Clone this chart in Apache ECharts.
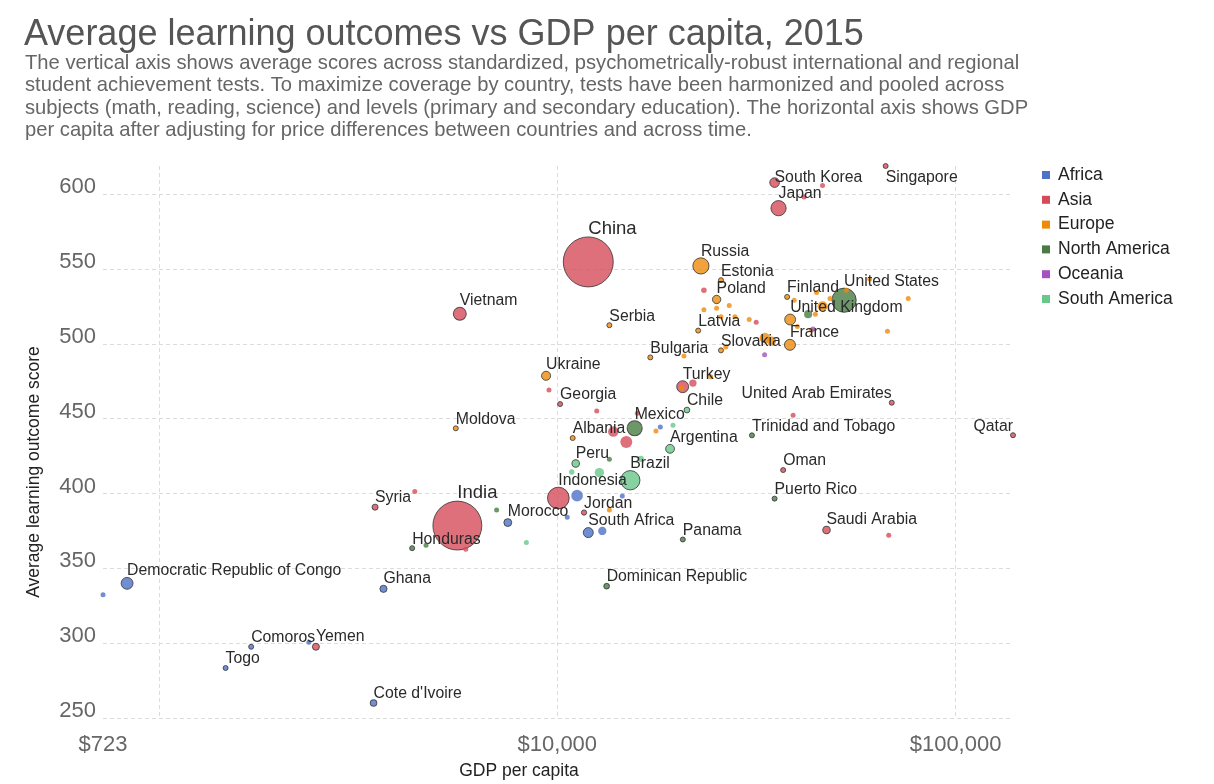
<!DOCTYPE html>
<html>
<head>
<meta charset="utf-8">
<title>Average learning outcomes vs GDP per capita, 2015</title>
<script src="https://cdn.jsdelivr.net/npm/echarts@6/dist/echarts.min.js"></script>
<style>
  html, body { margin: 0; padding: 0; background: #fff; }
  #main { width: 1214px; height: 784px; }
</style>
</head>
<body>
<div id="main"></div>
<script>
// values (gdp in $, score, population in millions)
var africaNames = ['Democratic Republic of Congo', 'Central African Republic', 'Togo', 'Comoros', 'Burkina Faso', 'Ghana',
  "Cote d'Ivoire", 'Morocco', 'Tunisia', 'Egypt', 'South Africa', 'Algeria', 'Mauritius', 'Seychelles'];
var africaGdp = [831, 723, 1469, 1703, 2378, 3660, 3456, 7510, 10590, 11210, 11960, 12970, 14560, 18140];
var africaScore = [340.0, 332.3, 283.4, 297.6, 300.7, 336.3, 260.0, 380.6, 384.2, 398.6, 373.9, 375.0, 398.4, 444.5];
var africaPop = [77, 4.5, 7.4, 0.8, 2, 28, 23, 34, 2, 75, 55, 38, 1.3, 0.1];

var asiaNames = ['China', 'India', 'Indonesia', 'Vietnam', 'Japan', 'South Korea', 'Singapore', 'Macao', 'Hong Kong',
  'Syria', 'Kyrgyzstan', 'Yemen', 'Laos', 'Armenia', 'Georgia', 'Mongolia', 'Lebanon', 'Thailand', 'Iran', 'Jordan',
  'Turkey', 'Malaysia', 'Kazakhstan', 'Israel', 'United Arab Emirates', 'Bahrain', 'Oman', 'Saudi Arabia', 'Kuwait', 'Qatar'];
var asiaGdp = [11960, 5610, 10060, 5690, 35930, 35120, 66750, 41660, 46340,
  3486, 4386, 2476, 5890, 9530, 10160, 12560, 15880, 13820, 14900, 11670,
  20640, 21900, 23340, 31580, 69150, 39090, 36900, 47420, 67960, 139400];
var asiaScore = [554.8, 378.6, 397.0, 520.1, 590.7, 607.8, 618.9, 598.2, 605.8,
  390.9, 401.3, 297.6, 362.8, 469.2, 459.8, 455.1, 453.6, 441.4, 434.5, 387.3,
  471.4, 473.8, 535.9, 514.4, 460.7, 452.3, 415.7, 375.7, 372.2, 439.0];
var asiaPop = [1371, 1311, 258, 92, 127, 51, 5.5, 0.6, 7.3,
  20, 2, 27, 2, 2.9, 3.7, 3, 6, 60, 79, 15,
  78, 30, 17, 8, 9, 1.4, 4.3, 31, 3.8, 2.5];

var europeNames = ['Russia', 'Estonia', 'Poland', 'Latvia', 'Serbia', 'Bulgaria', 'Slovakia', 'Ukraine', 'Moldova', 'Albania',
  'Finland', 'United Kingdom', 'France', 'Hungary', 'Lithuania', 'Croatia', 'Greece', 'Portugal', 'Czechia', 'Italy', 'Spain',
  'Malta', 'Romania', 'Belgium', 'Denmark', 'Iceland', 'Netherlands', 'Sweden', 'Germany', 'Austria', 'Ireland', 'Switzerland',
  'Luxembourg', 'Norway', 'Montenegro', 'North Macedonia', 'Bosnia and Herzegovina', 'Kosovo'];
var europeGdp = [22940, 25760, 25120, 22580, 13510, 17120, 25760, 9370, 5560, 10930,
  37760, 38430, 38380, 23340, 27020, 25120, 25760, 27930, 30330, 33200, 34510,
  26500, 20800, 40060, 43450, 39330, 44770, 48390, 46340, 44460, 53220, 60880,
  76060, 67450, 24270, 20510, 17690, 13510];
var europeScore = [552.1, 542.6, 529.7, 508.9, 512.5, 491.0, 495.7, 478.7, 443.6, 437.1,
  531.4, 516.3, 499.4, 522.8, 525.7, 523.9, 518.1, 518.1, 516.3, 504.0, 501.9,
  498.0, 491.9, 511.6, 509.2, 529.2, 534.4, 530.4, 525.2, 519.9, 535.9, 543.3,
  530.4, 508.5, 478.0, 470.3, 441.8, 389.0];
var europePop = [144, 1.3, 38, 2, 7, 7.2, 5.4, 45, 3.5, 2.9,
  5.5, 65, 66, 5, 2.9, 4.2, 4, 4, 6, 60, 46,
  0.4, 2, 4, 4, 0.3, 5, 9.8, 55, 4, 4.7, 4,
  0.6, 4, 0.6, 2.1, 3.5, 1.8];

var northAmericaNames = ['United States', 'Canada', 'Mexico', 'Trinidad and Tobago', 'Puerto Rico', 'Panama',
  'Dominican Republic', 'Honduras', 'Nicaragua', 'Guatemala', 'Costa Rica'];
var northAmericaGdp = [52500, 42640, 15640, 30810, 35120, 20660, 13300, 4320, 4680, 7040, 13510];
var northAmericaScore = [529.2, 519.9, 443.6, 438.9, 396.6, 369.3, 338.1, 363.5, 365.5, 389.0, 423.0];
var northAmericaPop = [321, 36, 125, 1.4, 3.5, 4, 18, 9, 1, 6, 4.8];

var oceaniaNames = ['New Zealand', 'Australia'];
var oceaniaGdp = [33150, 43850];
var oceaniaScore = [492.7, 509.9];
var oceaniaPop = [4.6, 4];

var southAmericaNames = ['Chile', 'Argentina', 'Peru', 'Brazil', 'Uruguay', 'Ecuador', 'Colombia', 'Venezuela', 'Paraguay'];
var southAmericaGdp = [21160, 19190, 11120, 15250, 19520, 10870, 12750, 16200, 8360];
var southAmericaScore = [455.8, 429.9, 420.1, 408.9, 445.6, 414.4, 414.0, 423.2, 367.3];
var southAmericaPop = [18, 43, 31, 205, 3.4, 16, 48, 22, 2];

var labelledCountries = ['Democratic Republic of Congo', 'Togo', 'Comoros', 'Ghana', "Cote d'Ivoire", 'Morocco', 'South Africa',
  'China', 'India', 'Indonesia', 'Vietnam', 'Japan', 'South Korea', 'Singapore', 'Syria', 'Yemen', 'Georgia', 'Jordan',
  'Turkey', 'United Arab Emirates', 'Oman', 'Saudi Arabia', 'Qatar', 'Russia', 'Estonia', 'Poland', 'Latvia', 'Serbia',
  'Bulgaria', 'Slovakia', 'Ukraine', 'Moldova', 'Albania', 'Finland', 'United Kingdom', 'France', 'United States', 'Mexico',
  'Trinidad and Tobago', 'Puerto Rico', 'Panama', 'Dominican Republic', 'Honduras', 'Chile', 'Argentina', 'Peru', 'Brazil'];
var labelsLeftOfPoint = ['United Arab Emirates', 'Qatar'];
var bigLabels = ['China', 'India'];

var xTickValues = [723, 10000, 100000];
var yMin = 250;
var yStep = 50;

var FONT = "'Liberation Sans', Arial, Helvetica, sans-serif";
var LABEL_SIZE = 15.8;
var BIG_LABEL_SIZE = 18.5;
var GRID = { left: 103, right: 201, top: 166, bottom: 66 };

var groups = [
  { name: 'Africa', color: '#4f72c8', names: africaNames, gdp: africaGdp, score: africaScore, pop: africaPop },
  { name: 'Asia', color: '#d44c5a', names: asiaNames, gdp: asiaGdp, score: asiaScore, pop: asiaPop },
  { name: 'Europe', color: '#ef8b0a', names: europeNames, gdp: europeGdp, score: europeScore, pop: europePop },
  { name: 'North America', color: '#497c44', names: northAmericaNames, gdp: northAmericaGdp, score: northAmericaScore, pop: northAmericaPop },
  { name: 'Oceania', color: '#a551bf', names: oceaniaNames, gdp: oceaniaGdp, score: oceaniaScore, pop: oceaniaPop },
  { name: 'South America', color: '#69c78a', names: southAmericaNames, gdp: southAmericaGdp, score: southAmericaScore, pop: southAmericaPop }
];
// drawing order (legend keeps its own order)
var drawOrder = ['Asia', 'North America', 'South America', 'Africa', 'Europe', 'Oceania'];

function bubbleSize(pop) {
  return Math.max(5, 50 * Math.sqrt(pop / 1371));
}

var allGdp = [], allScore = [];
groups.forEach(function (g) {
  allGdp = allGdp.concat(g.gdp);
  allScore = allScore.concat(g.score);
});

var series = drawOrder.map(function (gname) {
  var g = groups.filter(function (x) { return x.name === gname; })[0];
  var idx = g.names.map(function (n, i) { return i; });
  idx.sort(function (a, b) { return g.pop[b] - g.pop[a]; });
  var data = idx.map(function (i) {
    var name = g.names[i];
    var item = {
      name: name,
      value: [g.gdp[i], g.score[i], g.pop[i]],
      symbolSize: bubbleSize(g.pop[i])
    };
    if (labelledCountries.indexOf(name) >= 0) {
      item.itemStyle = { borderColor: '#333', borderWidth: 1 };
      item.label = { show: true, position: ['50%', 2] };
      if (labelsLeftOfPoint.indexOf(name) >= 0) item.label.align = 'right';
      if (bigLabels.indexOf(name) >= 0) item.label.fontSize = BIG_LABEL_SIZE;
    }
    return item;
  });
  return {
    name: g.name,
    type: 'scatter',
    color: g.color,
    data: data,
    itemStyle: { color: g.color, opacity: 0.8 },
    label: {
      show: false,
      formatter: '{b}',
      position: ['50%', 2],
      align: 'left',
      verticalAlign: 'bottom',
      fontSize: LABEL_SIZE,
      fontFamily: FONT,
      color: '#2a2a2a',
      opacity: 1
    },
    emphasis: { disabled: true }
  };
});

var option = {
  animation: false,
  title: [
    {
      text: 'Average learning outcomes vs GDP per capita, 2015',
      left: 24, top: 17, padding: 0,
      textStyle: { fontSize: 36, fontWeight: 'normal', color: '#555', fontFamily: FONT }
    },
    {
      text: 'The vertical axis shows average scores across standardized, psychometrically-robust international and regional\n' +
        'student achievement tests. To maximize coverage by country, tests have been harmonized and pooled across\n' +
        'subjects (math, reading, science) and levels (primary and secondary education). The horizontal axis shows GDP\n' +
        'per capita after adjusting for price differences between countries and across time.',
      left: 25, top: 52, padding: 0,
      textStyle: { fontSize: 20.2, lineHeight: 22.4, fontWeight: 'normal', color: '#666', fontFamily: FONT }
    }
  ],
  legend: {
    orient: 'vertical',
    left: 1042, top: 165, padding: 0,
    icon: 'rect', itemWidth: 8, itemHeight: 8, itemGap: 4.8,
    itemStyle: { opacity: 1, borderWidth: 0 },
    textStyle: { fontSize: 17.5, lineHeight: 20, color: '#222', fontFamily: FONT, padding: [0, 0, 0, 3] },
    data: groups.map(function (g) { return g.name; })
  },
  grid: { left: GRID.left, right: GRID.right, top: GRID.top, bottom: GRID.bottom, containLabel: false },
  xAxis: {
    type: 'log',
    logBase: 10,
    min: Math.min.apply(null, allGdp),
    max: Math.max.apply(null, allGdp),
    axisLine: { show: false },
    axisTick: { show: false },
    axisLabel: {
      showMinLabel: true,
      showMaxLabel: false,
      margin: 16,
      fontSize: 22,
      lineHeight: 22,
      color: '#666',
      fontFamily: FONT,
      formatter: function (v) {
        for (var i = 0; i < xTickValues.length; i++) {
          if (Math.abs(v - xTickValues[i]) / xTickValues[i] < 0.01) {
            return '$' + xTickValues[i].toLocaleString('en-US');
          }
        }
        return '';
      }
    },
    splitLine: {
      show: true, showMinLine: false, showMaxLine: false,
      lineStyle: { color: '#dcdcdc', type: [4, 3], width: 1 }
    }
  },
  yAxis: {
    type: 'value',
    min: yMin,
    max: Math.max.apply(null, allScore),
    interval: yStep,
    axisLine: { show: false },
    axisTick: { show: false },
    axisLabel: {
      showMaxLabel: false,
      margin: 7,
      fontSize: 22,
      lineHeight: 14,
      verticalAlign: 'bottom',
      color: '#666',
      fontFamily: FONT
    },
    splitLine: {
      show: true, showMaxLine: false,
      lineStyle: { color: '#dcdcdc', type: [4, 3], width: 1 }
    }
  },
  graphic: [
    {
      type: 'text', x: 34, y: 472, rotation: Math.PI / 2,
      style: { text: 'Average learning outcome score', fontSize: 17.5, fontFamily: FONT, fill: '#222', textAlign: 'center', textVerticalAlign: 'middle' }
    },
    {
      type: 'text', x: 519, y: 771,
      style: { text: 'GDP per capita', fontSize: 17.5, fontFamily: FONT, fill: '#222', textAlign: 'center', textVerticalAlign: 'middle' }
    }
  ],
  series: series
};

var chart = echarts.init(document.getElementById('main'));
chart.setOption(option);

// keep labels inside the plot: push down any label that would rise above the grid top
series.forEach(function (s) {
  s.data.forEach(function (item) {
    if (!item.label) return;
    var p = chart.convertToPixel({ xAxisIndex: 0, yAxisIndex: 0 }, [item.value[0], item.value[1]]);
    var fs = item.label.fontSize || LABEL_SIZE;
    var labelTop = p[1] - item.symbolSize / 2 + 2 - fs;
    var limit = GRID.top + 4.5;
    if (labelTop < limit) {
      item.label.position = ['50%', 2 + (limit - labelTop)];
    }
  });
});
chart.setOption({ series: series });
</script>
</body>
</html>
